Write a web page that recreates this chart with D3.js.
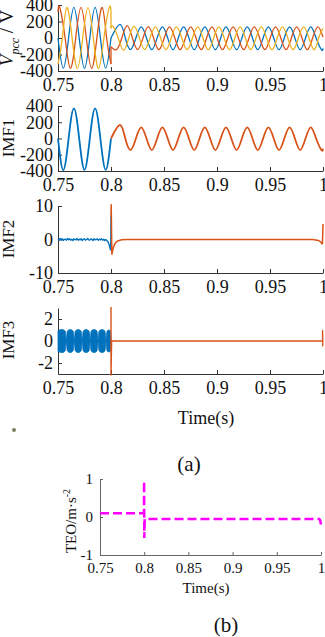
<!DOCTYPE html>
<html>
<head>
<meta charset="utf-8">
<script src="https://cdn.jsdelivr.net/npm/d3@7"></script>
<style>
  body { margin: 0; background: #fff; }
  svg { display: block; }
  svg text { font-family: "Liberation Serif", "Times New Roman", serif; }
</style>
</head>
<body>
<svg id="chart" width="325" height="637"></svg>
<script>
// ---- values ----
const xTicks = [0.75, 0.8, 0.85, 0.9, 0.95, 1];
const xTickLabels = ['0.75', '0.8', '0.85', '0.9', '0.95', '1'];
const halfCycle = 0.01; // 50 Hz grid, extremes every 10 ms

// Vpcc, phases a / b / c: first-extremum time and half-cycle peak values
const vpccPreStart = [[0.75, 0], [0.75, 316], [0.75, -316]];
const vpccPreFirst = [0.755, 0.7517, 0.7583];
const vpccPrePeaks = [
    [-366, 370, -368, 370, -366],
    [370, -368, 370, -368, 370],
    [370, -368, 368, -370, 368]
];
const vpccPreEnd = [[0.8, 0], [0.8, -316], [0.8, 316]];

const vpccPostStart = [[0.8, 0], [0.8, -105], [0.8, 118]];
const vpccPostFirst = [0.8085, 0.8052, 0.8018];
const vpccPostPeaks = [
    [166, -140, 135, -142, 134, -142, 134, -142, 134, -142, 134, -142, 134, -142, 134, -142, 134, -142, 134, -142],
    [-142, 150, -140, 138, -142, 135, -142, 135, -142, 135, -142, 135, -142, 135, -142, 135, -142, 135, -142, 135],
    [140, -150, 140, -140, 136, -142, 136, -142, 136, -142, 136, -142, 136, -142, 136, -142, 136, -142, 136, -142]
];
const vpccPostEnd = [[1, -125], [1, 10], [1, 116]];

// IMF1
const imf1PrePeaks = [-388, 371, -385, 372, -386];
const imf1PostPeaks = [166, -142, 137, -142, 137, -142, 137, -142, 137, -142, 137, -142, 137, -142, 137, -142, 137, -142, 137, -142];

// IMF2: blue samples every 1 ms from 0.750, then the transient
const imf2PreNoise = [0.1, -0.2, 0.3, -0.1, 0.2, -0.3, 0.1, 0.0, -0.2, 0.3, -0.1, 0.2, -0.2, 0.1, -0.3, 0.2,
    0.0, -0.1, 0.3, -0.2, 0.1, -0.1, 0.2, -0.3, 0.1, 0.2, -0.2, 0.0, 0.3, -0.1, -0.2, 0.2, 0.1, -0.3, 0.2,
    -0.1, 0.0, 0.2, -0.2, 0.1, -0.1, 0.2, -0.2, 0.1, -0.3, 0.0, -0.3];
const imf2PreTail = [[0.797, -0.6], [0.798, -1.3], [0.799, -2.4], [0.7995, -3.1], [0.7998, -2.0], [0.8, 7]];
const imf2Post = [[0.8, 7], [0.8002, 10.4], [0.8008, -4.4], [0.8015, -3.4], [0.802, -2.6], [0.803, -1.7],
    [0.804, -1.1], [0.805, -0.7], [0.807, -0.35], [0.81, -0.1], [0.815, 0], [0.99, 0], [0.996, -0.3],
    [0.998, -0.8], [0.999, -1.3], [0.9995, -1.2], [1, 4.6]];

// IMF3: envelope of the beating blue band, orange spikes
const imf3Envelope = [
    [0.7500, 0.95], [0.7510, 1.0], [0.7540, 1.05], [0.7568, 0.9], [0.7578, 0.12],
    [0.7588, 0.9], [0.7615, 1.05], [0.7643, 0.9], [0.7653, 0.12],
    [0.7663, 0.9], [0.7690, 1.05], [0.7718, 0.9], [0.7728, 0.12],
    [0.7738, 0.9], [0.7765, 1.05], [0.7793, 0.9], [0.7803, 0.12],
    [0.7813, 0.9], [0.7840, 1.05], [0.7868, 0.9], [0.7878, 0.12],
    [0.7888, 0.9], [0.7915, 1.05], [0.7943, 0.9], [0.7953, 0.12],
    [0.7963, 0.9], [0.7980, 1.0], [0.7995, 0.9], [0.8000, 0.3]
];
const imf3Post = [[0.8, 3.1], [0.8, -3.1], [0.8006, 0], [0.9996, 0], [0.9996, 0.95], [0.9998, -0.45], [1, -0.45]];

// TEO (b)
const teo = [[0.75, 0.1], [0.7997, 0.1], [0.7999, 0.95], [0.8001, -0.55], [0.8006, -0.05],
    [0.998, -0.05], [0.999, -0.08], [1, -0.2]];

// ---- drawing ----
const font = '"Liberation Serif", "Times New Roman", serif';
const colors = ['#0072BD', '#D95319', '#EDB120'];
const svg = d3.select('#chart');

const x = d3.scaleLinear().domain([0.75, 1]).range([58, 323]);
const xb = d3.scaleLinear().domain([0.75, 1]).range([100, 321]);

function yScale(domain, top, bottom) {
    return d3.scaleLinear().domain(domain).range([bottom, top]);
}

// extremes on the half-cycle grid, zero crossings between sign changes
function knots(start, first, peaks, end) {
    const pts = [start];
    peaks.forEach((v, i) => pts.push([first + i * halfCycle, v]));
    pts.push(end);
    const out = [pts[0]];
    for (let i = 1; i < pts.length; i++) {
        const a = pts[i - 1], b = pts[i];
        if (a[1] * b[1] < 0) out.push([(a[0] + b[0]) / 2, 0]);
        out.push(b);
    }
    return out;
}

function addAxes(xs, ys, yTicks, o) {
    const xa = svg.append('g')
        .attr('transform', `translate(0,${ys.range()[0]})`)
        .call(d3.axisBottom(xs).tickValues(xTicks).tickFormat((d, i) => xTickLabels[i])
            .tickSizeInner(-o.tick).tickSizeOuter(0).tickPadding(o.xPad));
    const ya = svg.append('g')
        .attr('transform', `translate(${xs.range()[0]},0)`)
        .call(d3.axisLeft(ys).tickValues(yTicks).tickFormat(d => String(d))
            .tickSizeInner(-o.tick).tickSizeOuter(0).tickPadding(o.yPad));
    [xa, ya].forEach(a => {
        a.attr('font-family', font).attr('font-size', o.fontSize);
        a.select('.domain').attr('stroke', o.color);
        a.selectAll('.tick line').attr('stroke', o.color);
        a.selectAll('.tick text').attr('fill', '#111').style('font-family', font);
    });
}

function path(data, xs, ys, color, width, curve) {
    svg.append('path')
        .datum(data)
        .attr('fill', 'none')
        .attr('stroke', color)
        .attr('stroke-width', width)
        .attr('stroke-linejoin', 'round')
        .attr('d', d3.line().x(d => xs(d[0])).y(d => ys(d[1])).curve(curve || d3.curveLinear));
}

function yLabel(cx, cy, text, size) {
    svg.append('text')
        .attr('transform', `translate(${cx},${cy}) rotate(-90)`)
        .attr('text-anchor', 'middle')
        .attr('font-size', size)
        .attr('fill', '#111')
        .text(text);
}

const topAxis = { tick: 4, xPad: 7, yPad: 5, fontSize: 18, color: '#333' };

// panel 1: Vpcc
const y1 = yScale([-400, 400], 5, 71);
addAxes(x, y1, [-400, -200, 0, 200, 400], topAxis);
[0, 1, 2].forEach(p => {
    const pre = knots(vpccPreStart[p], vpccPreFirst[p], vpccPrePeaks[p], vpccPreEnd[p]);
    const post = knots(vpccPostStart[p], vpccPostFirst[p], vpccPostPeaks[p], vpccPostEnd[p]);
    path(pre, x, y1, colors[p], 1.3, d3.curveNatural);
    path([vpccPreEnd[p], vpccPostStart[p]], x, y1, colors[p], 1.3);
    path(post, x, y1, colors[p], 1.3, d3.curveNatural);
});
const vLab = svg.append('text')
    .attr('transform', 'translate(13,38) rotate(-90)')
    .attr('text-anchor', 'middle')
    .attr('font-size', 19)
    .attr('fill', '#111');
vLab.append('tspan').attr('font-style', 'italic').text('V');
vLab.append('tspan').attr('font-style', 'italic').attr('font-size', 12).attr('dy', 6).text('pcc');
vLab.append('tspan').attr('dy', -6).text(' / V');

// panel 2: IMF1
const y2 = yScale([-400, 400], 106, 171);
addAxes(x, y2, [-400, -200, 0, 200, 400], topAxis);
path(knots([0.75, 0], 0.755, imf1PrePeaks, [0.8, 0]), x, y2, colors[0], 1.8, d3.curveNatural);
path(knots([0.8, 0], 0.8085, imf1PostPeaks, [1, -125]), x, y2, colors[1], 1.8, d3.curveNatural);
yLabel(14, 138, 'IMF1', 17);

// panel 3: IMF2
const y3 = yScale([-10, 10], 206, 273);
addAxes(x, y3, [-10, 0, 10], topAxis);
const imf2Pre = imf2PreNoise.map((v, i) => [0.75 + i * 0.001, v]).concat(imf2PreTail);
path(imf2Pre, x, y3, colors[0], 1.4);
path(imf2Post, x, y3, colors[1], 1.5);
yLabel(14, 239, 'IMF2', 17);

// panel 4: IMF3
const y4 = yScale([-3, 3], 308, 374);
addAxes(x, y4, [-2, 0, 2], topAxis);
svg.append('path')
    .datum(imf3Envelope)
    .attr('fill', colors[0])
    .attr('stroke', colors[0])
    .attr('stroke-width', 0.8)
    .attr('d', d3.area().x(d => x(d[0])).y0(d => y4(-d[1])).y1(d => y4(d[1])).curve(d3.curveMonotoneX));
path([[0.75, 0], [0.8, 0]], x, y4, colors[0], 1);
path(imf3Post, x, y4, colors[1], 1.4);
yLabel(14, 340, 'IMF3', 17);

svg.append('text')
    .attr('x', 206).attr('y', 424)
    .attr('text-anchor', 'middle')
    .attr('font-size', 18)
    .attr('fill', '#111')
    .text('Time(s)');

svg.append('circle').attr('cx', 14).attr('cy', 430).attr('r', 2).attr('fill', '#7d7f62');

svg.append('text')
    .attr('x', 189).attr('y', 471)
    .attr('text-anchor', 'middle')
    .attr('font-size', 21)
    .attr('fill', '#111')
    .text('(a)');

// panel (b): TEO
const yb = yScale([-1, 1], 479, 555);
addAxes(xb, yb, [-1, 0, 1], { tick: 3, xPad: 7, yPad: 7, fontSize: 15, color: '#666' });
svg.append('path')
    .datum(teo)
    .attr('fill', 'none')
    .attr('stroke', '#ff00ff')
    .attr('stroke-width', 2.5)
    .attr('stroke-dasharray', '9,4')
    .attr('d', d3.line().x(d => xb(d[0])).y(d => yb(d[1])));

const tLab = svg.append('text')
    .attr('transform', 'translate(76,521) rotate(-90)')
    .attr('text-anchor', 'middle')
    .attr('font-size', 15)
    .attr('fill', '#111');
tLab.append('tspan').text('TEO/m\u00b7s');
tLab.append('tspan').attr('font-size', 10).attr('dy', -6).text('-2');

svg.append('text')
    .attr('x', 206).attr('y', 593)
    .attr('text-anchor', 'middle')
    .attr('font-size', 15)
    .attr('fill', '#111')
    .text('Time(s)');

svg.append('text')
    .attr('x', 226).attr('y', 632)
    .attr('text-anchor', 'middle')
    .attr('font-size', 21)
    .attr('fill', '#111')
    .text('(b)');
</script>
</body>
</html>
